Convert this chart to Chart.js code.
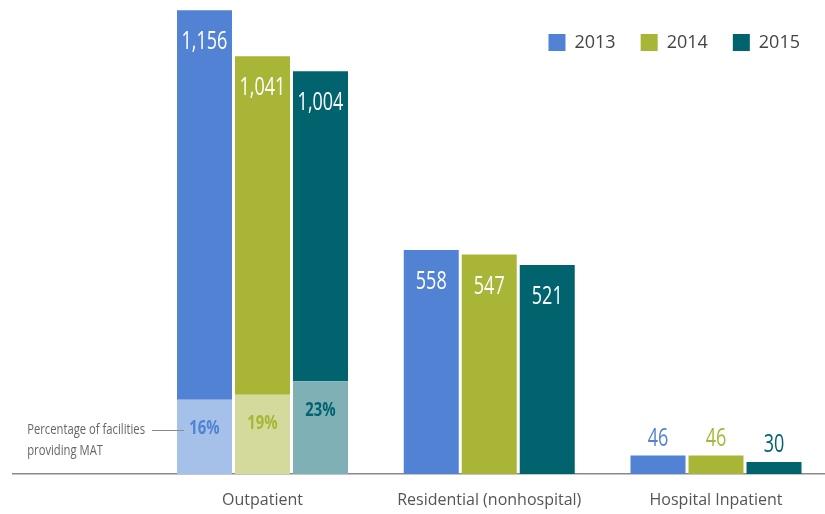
<!DOCTYPE html>
<html>
<head>
<meta charset="utf-8">
<script src="https://cdn.jsdelivr.net/npm/chart.js@4.4.1/dist/chart.umd.min.js"></script>
<style>
  html, body { margin: 0; padding: 0; background: #ffffff; }
  #wrap { width: 825px; height: 514px; position: relative; }
</style>
</head>
<body>
<div id="wrap"><canvas id="c"></canvas></div>
<script>
// Facilities offering treatment, by setting and year
const categories = ['Outpatient', 'Residential (nonhospital)', 'Hospital Inpatient'];
const years = ['2013', '2014', '2015'];
const facilities2013 = [1156, 558, 46];
const facilities2014 = [1041, 547, 46];
const facilities2015 = [1004, 521, 30];
// Share of facilities providing MAT (percent), reported for outpatient only
const matShare2013 = [16, null, null];
const matShare2014 = [19, null, null];
const matShare2015 = [23, null, null];

const totals = [facilities2013, facilities2014, facilities2015];
const shares = [matShare2013, matShare2014, matShare2015];

const mainColors = ['#5182d3', '#a8b537', '#00636e'];
const lightColors = ['#a6c1e9', '#d4da9c', '#7fb0b6'];
const bodyFont = '"Open Sans", "Noto Sans", sans-serif';

// Each year is one stack: MAT portion at the bottom, remainder on top
const datasets = [];
years.forEach((year, i) => {
  const matPart = totals[i].map((t, k) => shares[i][k] == null ? 0 : t * shares[i][k] / 100);
  datasets.push({
    label: year + ' MAT',
    stack: year,
    data: matPart.map((v, k) => ({ x: k, y: v })),
    backgroundColor: lightColors[i],
    borderWidth: 0,
    clip: false
  });
  datasets.push({
    label: year,
    stack: year,
    data: totals[i].map((t, k) => ({ x: k, y: t - matPart[k] })),
    backgroundColor: mainColors[i],
    borderWidth: 0,
    clip: false
  });
});

// Narrow lettering: regular face squeezed horizontally
function narrowText(ctx, text, x, y, font, squeeze, align) {
  ctx.save();
  ctx.font = font;
  ctx.textAlign = align || 'center';
  ctx.textBaseline = 'middle';
  ctx.translate(x, y);
  ctx.scale(squeeze, 1);
  ctx.fillText(text, 0, 0);
  ctx.restore();
}

const labelPlugin = {
  id: 'barLabels',
  afterDatasetsDraw(chart) {
    const ctx = chart.ctx;
    years.forEach((year, i) => {
      const lowerMeta = chart.getDatasetMeta(2 * i);
      const upperMeta = chart.getDatasetMeta(2 * i + 1);
      upperMeta.data.forEach((bar, k) => {
        const total = totals[i][k];
        const base = lowerMeta.data[k].base;
        const height = base - bar.y;
        const txt = total.toLocaleString('en-US');
        if (height > 60) {
          ctx.fillStyle = '#ffffff';
          narrowText(ctx, txt, bar.x, bar.y + 32, '25px ' + bodyFont, 0.72);
        } else {
          ctx.fillStyle = mainColors[i];
          narrowText(ctx, txt, bar.x, bar.y - 17, '25px ' + bodyFont, 0.72);
        }
        const share = shares[i][k];
        if (share != null) {
          const low = lowerMeta.data[k];
          ctx.fillStyle = mainColors[i];
          narrowText(ctx, share + '%', low.x, low.y + 29, 'bold 19px ' + bodyFont, 0.78);
        }
      });
    });

    // Note pointing at the first MAT segment
    const first = chart.getDatasetMeta(0).data[0];
    const left = first.x - first.width / 2;
    const y = first.y + 30;
    ctx.save();
    ctx.strokeStyle = '#8a8a8a';
    ctx.lineWidth = 1;
    ctx.beginPath();
    ctx.moveTo(left - 25, Math.round(y) + 0.5);
    ctx.lineTo(left + 7, Math.round(y) + 0.5);
    ctx.stroke();
    ctx.restore();
    ctx.fillStyle = '#666666';
    const textRight = left - 32;
    ctx.save();
    ctx.font = '15px ' + bodyFont;
    const w = ctx.measureText('Percentage of facilities').width * 0.75;
    ctx.restore();
    narrowText(ctx, 'Percentage of facilities', textRight, y, '15px ' + bodyFont, 0.75, 'right');
    narrowText(ctx, 'providing MAT', textRight - w, y + 21, '15px ' + bodyFont, 0.75, 'left');
  }
};

new Chart(document.getElementById('c'), {
  type: 'bar',
  data: { datasets },
  options: {
    responsive: true,
    maintainAspectRatio: false,
    animation: false,
    layout: { padding: { top: 8.5, left: 13, right: 0, bottom: 0 } },
    categoryPercentage: 0.7674,
    barPercentage: 0.948,
    plugins: {
      tooltip: { enabled: false },
      legend: {
        position: 'top',
        align: 'end',
        labels: {
          filter: item => !item.text.includes('MAT'),
          boxWidth: 17,
          boxHeight: 17,
          padding: 25,
          color: '#444444',
          font: { family: bodyFont, size: 18 }
        }
      }
    },
    scales: {
      x: {
        type: 'linear',
        offset: false,
        bounds: 'data',
        min: -1.1003,
        max: 2.4807,
        afterBuildTicks: axis => { axis.ticks = categories.map((c, k) => ({ value: k })); },
        afterFit: axis => { axis.height = 40; },
        grid: { display: false, drawTicks: false },
        border: { display: true, color: '#8a8a8a', width: 1.5 },
        ticks: {
          padding: 17,
          autoSkip: false,
          maxRotation: 0,
          color: '#555555',
          font: { family: bodyFont, size: 16 },
          callback: v => categories[v] ?? ''
        }
      },
      y: {
        display: false,
        stacked: true,
        min: 0,
        max: 1028
      }
    }
  },
  plugins: [labelPlugin]
});
</script>
</body>
</html>
